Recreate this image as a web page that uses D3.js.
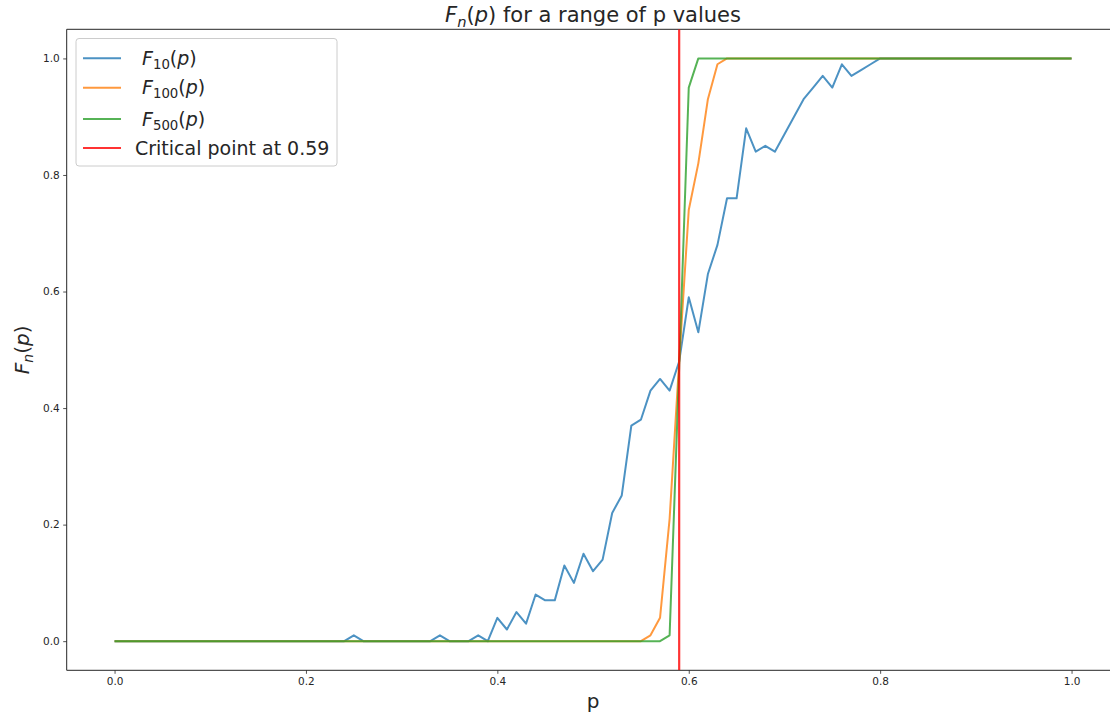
<!DOCTYPE html>
<html>
<head>
<meta charset="utf-8">
<script src="https://cdn.jsdelivr.net/npm/d3@7"></script>
<style>
  body { margin: 0; background: #fff; }
  svg text { font-family: "DejaVu Sans", sans-serif; fill: #262626; }
</style>
</head>
<body>
<div id="chart"></div>
<script>
// values sampled at p = 0.00, 0.01, ..., 1.00
const f10 = [
  0, 0, 0, 0, 0, 0, 0, 0, 0, 0,
  0, 0, 0, 0, 0, 0, 0, 0, 0, 0,
  0, 0, 0, 0, 0, 0.01, 0, 0, 0, 0,
  0, 0, 0, 0, 0.01, 0, 0, 0, 0.01, 0,
  0.04, 0.02, 0.05, 0.03, 0.08, 0.07, 0.07, 0.13, 0.10, 0.15,
  0.12, 0.14, 0.22, 0.25, 0.37, 0.38, 0.43, 0.45, 0.43, 0.48,
  0.59, 0.53, 0.63, 0.68, 0.76, 0.76, 0.88, 0.84, 0.85, 0.84,
  0.87, 0.90, 0.93, 0.95, 0.97, 0.95, 0.99, 0.97, 0.98, 0.99,
  1, 1, 1, 1, 1, 1, 1, 1, 1, 1,
  1, 1, 1, 1, 1, 1, 1, 1, 1, 1,
  1
];
const f100 = [
  0, 0, 0, 0, 0, 0, 0, 0, 0, 0,
  0, 0, 0, 0, 0, 0, 0, 0, 0, 0,
  0, 0, 0, 0, 0, 0, 0, 0, 0, 0,
  0, 0, 0, 0, 0, 0, 0, 0, 0, 0,
  0, 0, 0, 0, 0, 0, 0, 0, 0, 0,
  0, 0, 0, 0, 0, 0, 0.01, 0.04, 0.21, 0.48,
  0.74, 0.82, 0.93, 0.99, 1, 1, 1, 1, 1, 1,
  1, 1, 1, 1, 1, 1, 1, 1, 1, 1,
  1, 1, 1, 1, 1, 1, 1, 1, 1, 1,
  1, 1, 1, 1, 1, 1, 1, 1, 1, 1,
  1
];
const f500 = [
  0, 0, 0, 0, 0, 0, 0, 0, 0, 0,
  0, 0, 0, 0, 0, 0, 0, 0, 0, 0,
  0, 0, 0, 0, 0, 0, 0, 0, 0, 0,
  0, 0, 0, 0, 0, 0, 0, 0, 0, 0,
  0, 0, 0, 0, 0, 0, 0, 0, 0, 0,
  0, 0, 0, 0, 0, 0, 0, 0, 0.01, 0.47,
  0.95, 1, 1, 1, 1, 1, 1, 1, 1, 1,
  1, 1, 1, 1, 1, 1, 1, 1, 1, 1,
  1, 1, 1, 1, 1, 1, 1, 1, 1, 1,
  1, 1, 1, 1, 1, 1, 1, 1, 1, 1,
  1
];
const criticalP = 0.59;
const xTicks = [0.0, 0.2, 0.4, 0.6, 0.8, 1.0];
const yTicks = [0.0, 0.2, 0.4, 0.6, 0.8, 1.0];
const seriesNames = ["10", "100", "500"];
const criticalLabel = "Critical point at 0.59";

const width = 1110;
const height = 715;
const mLeft = 66.7, mRight = 1119.4, mTop = 29.3, mBottom = 670.3;
const midX = (mLeft + mRight) / 2;

const svg = d3.select("#chart")
  .append("svg")
  .attr("width", width)
  .attr("height", height);

const x = d3.scaleLinear().domain([-0.05, 1.05]).range([mLeft, mRight]);
const y = d3.scaleLinear().domain([-0.05, 1.05]).range([mBottom, mTop]);

const colors = ["#1f77b4", "#ff7f0e", "#2ca02c"];
const red = "#ff0000";

// axes
const xAxis = d3.axisBottom(x).tickValues(xTicks).tickFormat(d3.format(".1f")).tickSize(3.5).tickPadding(3.5);
const yAxis = d3.axisLeft(y).tickValues(yTicks).tickFormat(d3.format(".1f")).tickSize(3.5).tickPadding(3.5);

const gx = svg.append("g").attr("transform", `translate(0,${mBottom})`).call(xAxis);
const gy = svg.append("g").attr("transform", `translate(${mLeft},0)`).call(yAxis);
[gx, gy].forEach(g => {
  g.select(".domain").remove();
  g.selectAll(".tick line").attr("stroke", "#262626").attr("stroke-width", 0.8);
  g.selectAll(".tick text").style("font-size", "10.5px").attr("fill", "#262626");
});

// spines (right spine is beyond the picture)
svg.append("path")
  .attr("d", `M${mLeft},${mTop}H${mRight}M${mLeft},${mTop}V${mBottom}H${mRight}`)
  .attr("fill", "none")
  .attr("stroke", "#262626")
  .attr("stroke-width", 1);

svg.append("clipPath").attr("id", "clip")
  .append("rect").attr("x", mLeft).attr("y", mTop).attr("width", mRight - mLeft).attr("height", mBottom - mTop);

const plot = svg.append("g").attr("clip-path", "url(#clip)");

const line = d3.line()
  .x((d, i) => x(i / 100))
  .y(d => y(d));

[f10, f100, f500].forEach((vals, k) => {
  plot.append("path")
    .datum(vals)
    .attr("d", line)
    .attr("fill", "none")
    .attr("stroke", colors[k])
    .attr("stroke-opacity", 0.8)
    .attr("stroke-width", 2)
    .attr("stroke-linejoin", "round");
});

plot.append("line")
  .attr("x1", x(criticalP)).attr("x2", x(criticalP))
  .attr("y1", mTop).attr("y2", mBottom)
  .attr("stroke", red)
  .attr("stroke-opacity", 0.8)
  .attr("stroke-width", 2.2);

// math-like label helper: F_sub(p)
function mathF(sel, sub, size, subItalic) {
  sel.append("tspan").style("font-style", "italic").text("F");
  sel.append("tspan")
    .style("font-size", (size * 0.7) + "px")
    .style("font-style", subItalic ? "italic" : "normal")
    .attr("dy", size * 0.22).text(sub);
  sel.append("tspan").attr("dy", -size * 0.22).text("(");
  sel.append("tspan").style("font-style", "italic").text("p");
  sel.append("tspan").text(")");
}

// title
const title = svg.append("text")
  .attr("x", midX)
  .attr("y", 22)
  .attr("text-anchor", "middle")
  .style("font-size", "21px");
mathF(title, "n", 21, true);
title.append("tspan").text(" for a range of p values");

// axis labels
svg.append("text")
  .attr("x", midX)
  .attr("y", 708)
  .attr("text-anchor", "middle")
  .style("font-size", "20px")
  .text("p");

const yl = svg.append("text")
  .attr("transform", `translate(29,${(mTop + mBottom) / 2}) rotate(-90)`)
  .attr("text-anchor", "middle")
  .style("font-size", "20px");
mathF(yl, "n", 20, true);

// legend
const legend = svg.append("g");
legend.append("rect")
  .attr("x", 76).attr("y", 38.5)
  .attr("width", 261).attr("height", 127.5)
  .attr("rx", 3)
  .attr("fill", "#fff")
  .attr("fill-opacity", 0.8)
  .attr("stroke", "#cccccc")
  .attr("stroke-width", 1);

const rowsY = [58.3, 87.7, 119, 148];
const fs = 19;
seriesNames.forEach((name, k) => {
  legend.append("line")
    .attr("x1", 83).attr("x2", 121)
    .attr("y1", rowsY[k]).attr("y2", rowsY[k])
    .attr("stroke", colors[k]).attr("stroke-opacity", 0.8).attr("stroke-width", 2);
  const t = legend.append("text")
    .attr("x", 142).attr("y", rowsY[k] + 6.5)
    .style("font-size", fs + "px");
  mathF(t, name, fs, false);
});
legend.append("line")
  .attr("x1", 83).attr("x2", 121)
  .attr("y1", rowsY[3]).attr("y2", rowsY[3])
  .attr("stroke", red).attr("stroke-opacity", 0.8).attr("stroke-width", 2);
legend.append("text")
  .attr("x", 135).attr("y", rowsY[3] + 6.8)
  .style("font-size", fs + "px")
  .text(criticalLabel);
</script>
</body>
</html>
